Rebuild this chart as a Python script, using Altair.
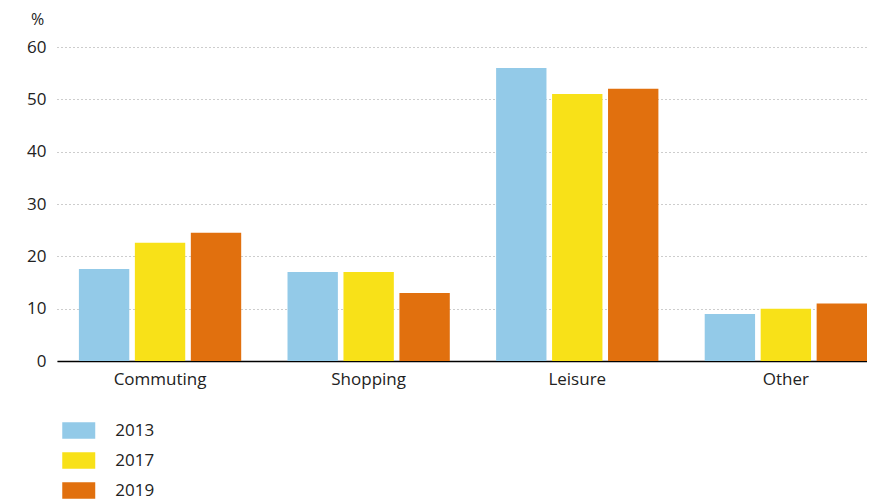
import altair as alt
import pandas as pd

categories = ["Commuting", "Shopping", "Leisure", "Other"]
years = ["2013", "2017", "2019"]
v2013 = [17.6, 17.0, 56.0, 9.0]
v2017 = [22.6, 17.0, 51.0, 10.0]
v2019 = [24.5, 13.0, 52.0, 11.0]
colors = ["#93CAE8", "#F8E118", "#E1700E"]
y_ticks = [0, 10, 20, 30, 40, 50, 60]

rows = []
for yr, vals in zip(years, [v2013, v2017, v2019]):
    for c, v in zip(categories, vals):
        rows.append({"category": c, "year": yr, "value": v})
df = pd.DataFrame(rows)

font = "Open Sans"
txt = "#222222"
fs = 17

chart = alt.Chart(df).mark_bar().encode(
    x=alt.X(
        "category:N", sort=categories,
        scale=alt.Scale(paddingInner=0.222, paddingOuter=0.0525, align=1),
        axis=alt.Axis(title=None, labelAngle=0, ticks=False, domainColor="black",
                      domainWidth=1.5, labelFontSize=fs, labelPadding=10,
                      labelColor=txt, labelFont=font, grid=False),
    ),
    xOffset=alt.XOffset("year:N", sort=years,
                        scale=alt.Scale(paddingInner=0.1, paddingOuter=0)),
    y=alt.Y(
        "value:Q",
        scale=alt.Scale(domain=[0, 60], nice=False),
        axis=alt.Axis(values=y_ticks, title="%", titleAngle=0, titleX=-20, titleY=-28,
                      titleAlign="center", titleBaseline="middle", titleFontWeight="normal",
                      titleFontSize=16, titleFont=font, titleColor=txt,
                      grid=True, gridDash=[1, 3], gridColor="#9a9a9a", gridWidth=1,
                      domain=False, ticks=False, labelPadding=11, labelFontSize=fs,
                      labelFont=font, labelColor=txt),
    ),
    color=alt.Color(
        "year:N",
        scale=alt.Scale(domain=years, range=colors),
        legend=alt.Legend(orient="none", legendX=13.25, legendY=375, title=None,
                          symbolType="M-2,-1H2V1H-2Z", symbolSize=272,
                          symbolStrokeWidth=0, symbolOpacity=1, labelOffset=28,
                          rowPadding=12, labelFontSize=fs, labelFont=font,
                          labelColor=txt, padding=0),
    ),
).properties(
    width=810, height=314,
    padding={"left": 49, "top": 39, "right": 0, "bottom": 140},
    autosize=alt.AutoSizeParams(type="none"),
).configure_view(stroke=None)

chart.save("out.html", embed_options={"renderer": "svg", "actions": False})
